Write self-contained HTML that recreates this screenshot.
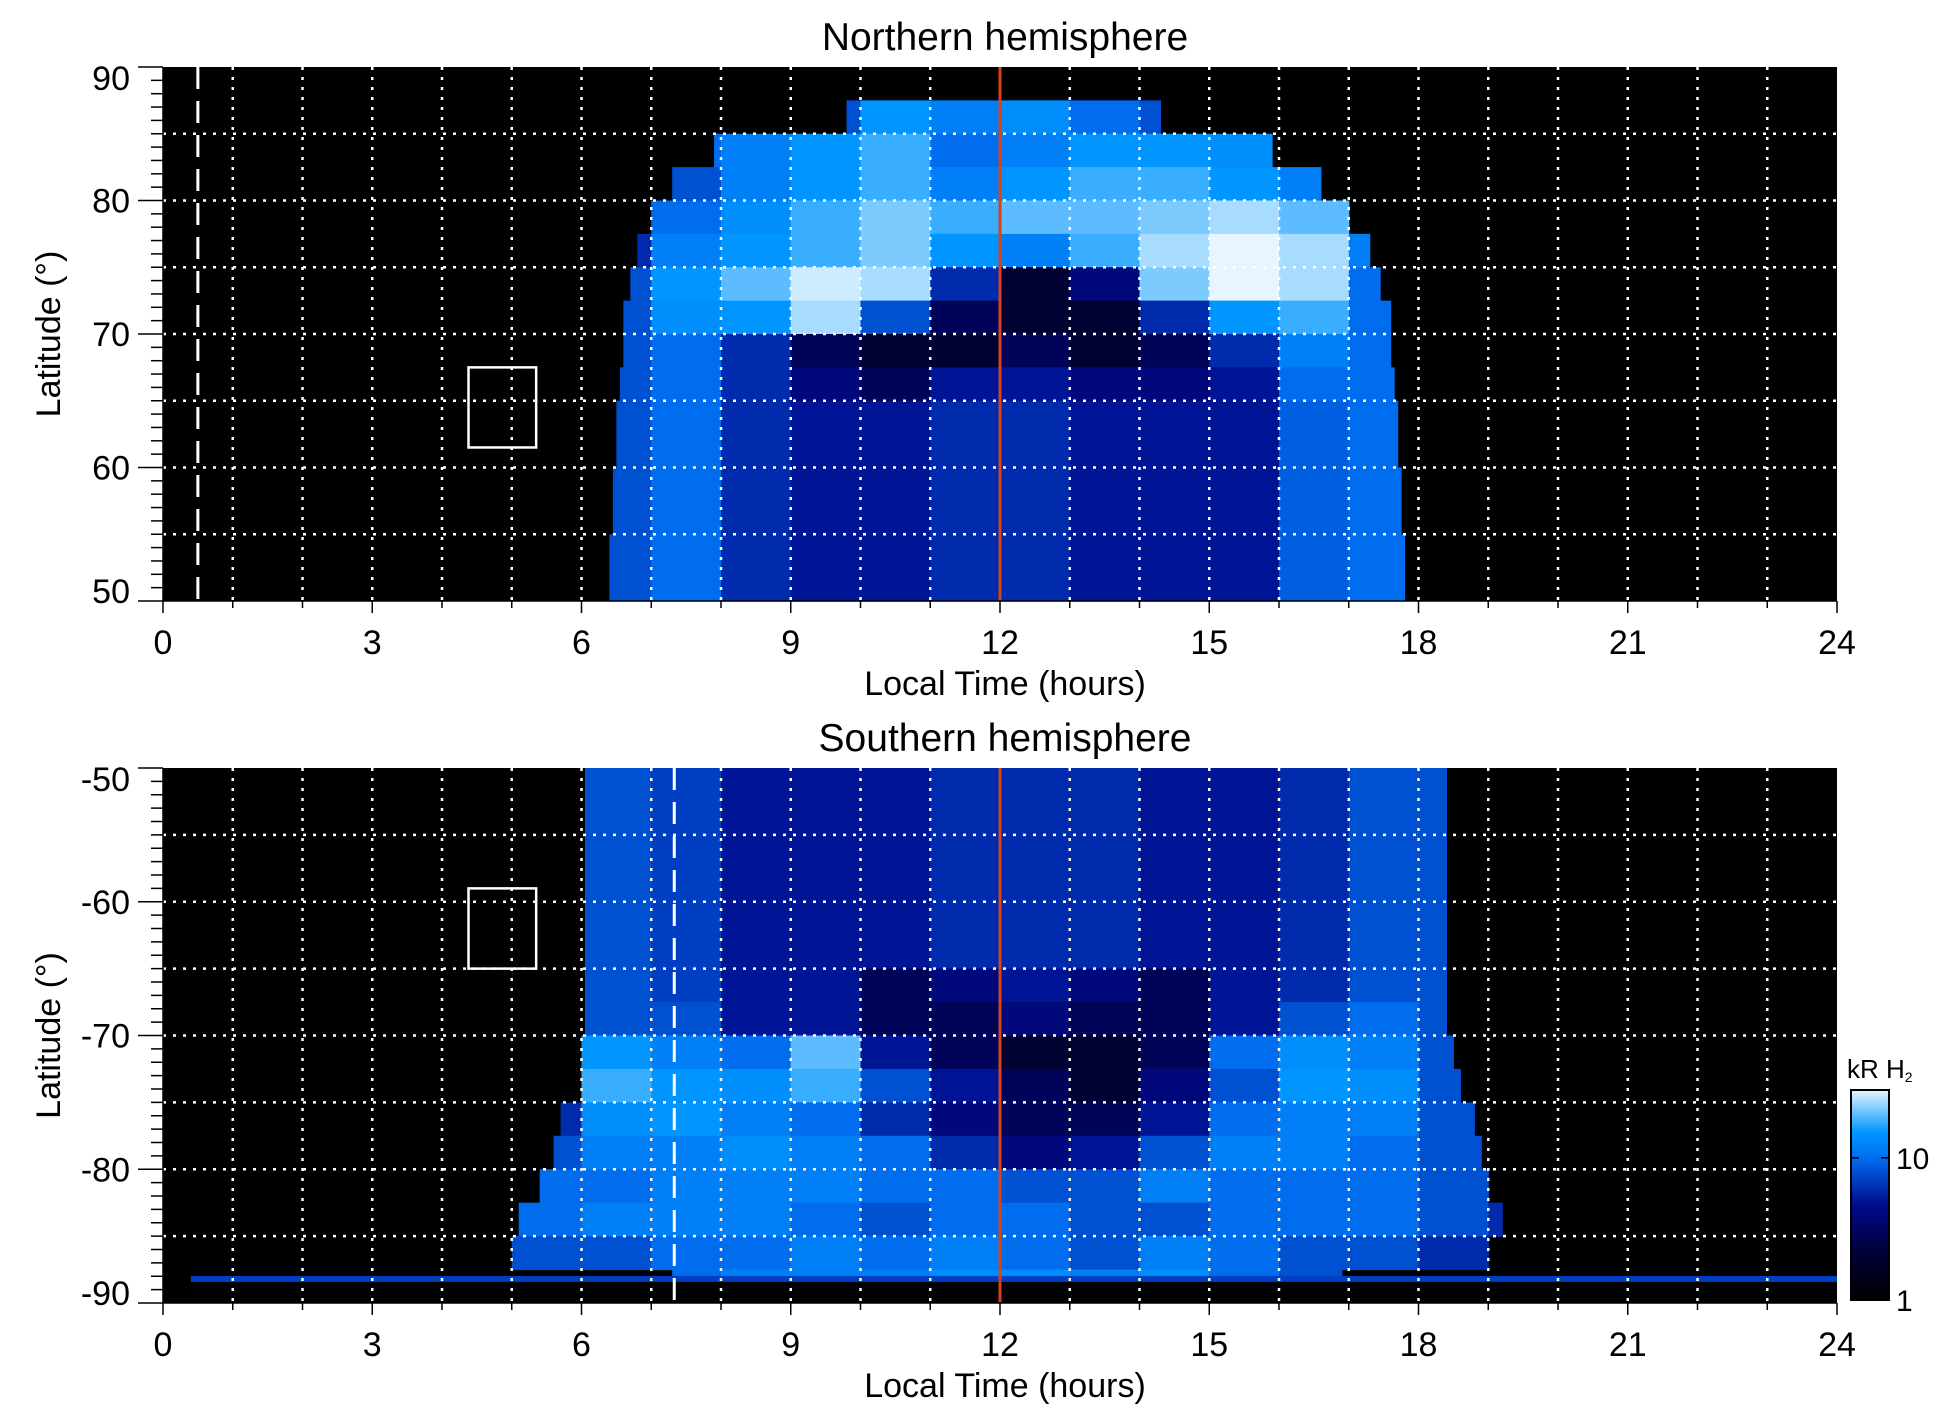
<!DOCTYPE html>
<html><head><meta charset="utf-8"><style>
html,body{margin:0;padding:0;background:#fff;}
svg{display:block;font-family:"Liberation Sans",Arial,sans-serif;}
</style></head><body>
<svg id="fig" width="1950" height="1423" viewBox="0 0 1950 1423" xmlns="http://www.w3.org/2000/svg">
<defs>
<linearGradient id="cbgrad" x1="0" y1="1" x2="0" y2="0">
<stop offset="0" stop-color="#000000"/><stop offset="0.25" stop-color="#00003c"/><stop offset="0.45" stop-color="#000a8c"/><stop offset="0.68" stop-color="#006ef0"/><stop offset="0.8" stop-color="#0096ff"/><stop offset="1" stop-color="#e6f5ff"/>
</linearGradient>
</defs>
</svg>
<script>
// ---------- data ----------
const ltTicks=[0,3,6,9,12,15,18,21,24];
const northLatTicks=[90,80,70,60,50];
const southLatTicks=[-50,-60,-70,-80,-90];
const northRowLats=[88.75,86.25,83.75,81.25,78.75,76.25,73.75,71.25,68.75,66.25,63.75,61.25,58.75,56.25,53.75,51.25];
const northStart=[99,9.8,7.9,7.3,7.0,6.8,6.7,6.6,6.6,6.55,6.5,6.5,6.45,6.45,6.4,6.4];
const northEnd=[0,14.3,15.9,16.6,17.0,17.3,17.45,17.6,17.6,17.65,17.7,17.7,17.75,17.75,17.8,17.8];
const northCols=[6,7,8,9,10,11,12,13,14,15,16,17];
const northVals=[
[0,0,0,0,0,0,0,0,0,0,0,0],
[0,0,0,8,15,12,14,10,8,0,0,0],
[0,10,12,15,18,10,12,15,15,14,0,0],
[0,8,12,15,18,12,15,18,18,15,12,0],
[6,10,14,18,22,18,20,20,22,25,20,10],
[6,12,15,18,22,15,12,18,25,30,25,12],
[8,15,20,28,25,6,2,4,22,30,25,10],
[8,14,15,25,8,3,2,2,6,15,18,10],
[8,10,6,3,2,2,3,2,3,6,12,10],
[8,10,6,4,3,5,5,4,4,5,10,10],
[8,10,6,5,5,6,6,5,5,5,9,10],
[8,10,6,5,5,6,6,5,5,5,9,10],
[8,10,6,5,5,6,6,5,5,5,9,10],
[8,10,6,5,5,6,6,5,5,5,9,10],
[8,10,6,5,5,6,6,5,5,5,9,10],
[8,10,6,5,5,6,6,5,5,5,9,10]];
const southRowLats=[-51.25,-53.75,-56.25,-58.75,-61.25,-63.75,-66.25,-68.75,-71.25,-73.75,-76.25,-78.75,-81.25,-83.75,-86.25,-87.8];
const southStart=[6.05,6.05,6.05,6.05,6.05,6.05,6.05,6.05,6.0,5.9,5.7,5.6,5.4,5.1,4.9,7.3];
const southEnd=[18.4,18.4,18.4,18.4,18.4,18.4,18.4,18.4,18.5,18.6,18.8,18.9,19.0,19.2,19.5,16.9];
const southCols=[4,5,6,7,8,9,10,11,12,13,14,15,16,17,18,19];
const southVals=[
[0,0,8,7,5,5,5,6,6,6,5,5,6,8,8,0],
[0,0,8,7,5,5,5,6,6,6,5,5,6,8,8,0],
[0,0,8,7,5,5,5,6,6,6,5,5,6,8,8,0],
[0,0,8,7,5,5,5,6,6,6,5,5,6,8,8,0],
[0,0,8,7,5,5,5,6,6,6,5,5,6,8,8,0],
[0,0,8,7,5,5,5,6,6,6,5,5,6,8,8,0],
[0,0,8,7,5,5,3,4,5,4,3,5,6,8,8,0],
[0,0,8,8,5,5,3,3,4,3,3,5,8,10,8,0],
[0,0,15,12,10,20,5,3,2,2,3,10,14,12,8,0],
[0,0,18,15,14,18,8,5,3,2,4,8,15,14,8,0],
[0,6,14,15,12,10,6,4,3,3,5,10,12,12,8,0],
[0,8,12,12,14,12,10,6,4,5,8,12,12,10,8,0],
[0,10,10,12,12,12,10,10,8,8,12,10,10,10,8,0],
[8,10,12,12,12,10,8,10,10,8,8,10,10,10,8,6],
[0,8,8,10,10,12,10,12,10,8,12,10,8,8,6,0],
[0,0,0,10,12,12,12,14,14,12,14,10,8,0,0,0]];
const bandLat=-88.2;
const bandStart=0.4, bandEnd=24, bandVal=7;
const cbTicks=[1,10];
const cbMax=30;

// ---------- helpers ----------
const NS='http://www.w3.org/2000/svg';
const svg=document.getElementById('fig');
function el(tag,attrs,parent){const e=document.createElementNS(NS,tag);for(const k in attrs)e.setAttribute(k,attrs[k]);(parent||svg).appendChild(e);return e;}
const X0=163,X1=1837;
function xs(lt){return X0+(X1-X0)*lt/24;}
const stops=[[0,[0,0,0]],[0.25,[0,0,60]],[0.45,[0,10,140]],[0.68,[0,110,240]],[0.8,[0,150,255]],[1,[230,245,255]]];
function cmap(v){
  let t=Math.log(Math.max(v,1))/Math.log(cbMax);t=Math.min(1,Math.max(0,t));
  for(let i=1;i<stops.length;i++){if(t<=stops[i][0]){const a=stops[i-1],b=stops[i];const f=(t-a[0])/(b[0]-a[0]);
    return 'rgb('+a[1].map((c,j)=>Math.round(c+(b[1][j]-c)*f)).join(',')+')';}}
  return 'rgb(230,245,255)';
}

function panel(opts){
  const {top,bot,latTop,latBot,title,titleY,name}=opts;
  const ys=lat=>top+(bot-top)*(latTop-lat)/(latTop-latBot);
  const g=el('g',{});
  
  
  const bg=el('rect',{x:X0,y:top,width:X1-X0,height:bot-top,fill:'#000'},g);
  
  
  const hm=el('g',{},g);
  
  
  const rows=opts.rowLats,cols=opts.cols,vals=opts.vals;
  rows.forEach((lat,r)=>{
    const half=(r===rows.length-1&&opts.lastHalf)?opts.lastHalf:1.25;
    const y1=ys(lat+half),y2=ys(lat-half);
    cols.forEach((c,ci)=>{
      const v=vals[r][ci];if(!v)return;
      const a=Math.max(c,opts.start[r]),b=Math.min(c+1,opts.end[r]);if(b<=a)return;
      const rc=el('rect',{x:xs(a),y:Math.min(y1,y2),width:xs(b)-xs(a)+0.6,height:Math.abs(y2-y1)+0.6,fill:cmap(v)},hm);
      
      
    });
  });
  if(opts.band){
    const bd=el('rect',{x:xs(bandStart),y:ys(bandLat)-3,width:xs(bandEnd)-xs(bandStart),height:6,fill:cmap(bandVal)},g);
    
    
  }
  const grid=el('g',{stroke:'#fff','stroke-width':2.5,'stroke-dasharray':'3,7'},g);
  
  
  for(let h=1;h<24;h++) el('line',{x1:xs(h),x2:xs(h),y1:top,y2:bot},grid);
  for(let l=Math.min(latTop,latBot)+5;l<Math.max(latTop,latBot);l+=5) el('line',{x1:X0,x2:X1,y1:ys(l),y2:ys(l)},grid);
  const dl=el('line',{x1:xs(opts.dashLT),x2:xs(opts.dashLT),y1:top,y2:bot,stroke:'#fff','stroke-width':3,'stroke-dasharray':'22,12'},g);
  
  
  const nl=el('line',{x1:xs(12),x2:xs(12),y1:top,y2:bot,stroke:'#d8431a','stroke-width':3},g);
  
  
  const bx=el('rect',{x:xs(4.38),y:ys(opts.box[0]),width:xs(5.35)-xs(4.38),height:ys(opts.box[1])-ys(opts.box[0]),fill:'none',stroke:'#fff','stroke-width':2.5},g);
  
  
  const ax=el('g',{stroke:'#000','stroke-width':1.5},g);
  
  
  el('line',{x1:X0,x2:X0,y1:top,y2:bot},ax);
  el('line',{x1:X0,x2:X1,y1:bot,y2:bot},ax);
  for(let l=Math.min(latTop,latBot);l<=Math.max(latTop,latBot);l++){
    const len=(l%10===0)?25:12;
    el('line',{x1:X0-len,x2:X0,y1:ys(l),y2:ys(l)},ax);
  }
  for(let h=0;h<=24;h++){const len=(h%3===0)?12:7;el('line',{x1:xs(h),x2:xs(h),y1:bot,y2:bot+len},ax);}
  opts.latTicks.forEach((l,i)=>{
    let cy=ys(l);if(i===0)cy=top+11;if(i===opts.latTicks.length-1)cy=bot-10;
    const t=el('text',{x:130,y:cy+12,'text-anchor':'end','font-size':34},g);t.textContent=l;
    
    
  });
  ltTicks.forEach(h=>{
    const t=el('text',{x:xs(h),y:bot+53,'text-anchor':'middle','font-size':34},g);t.textContent=h;
    
    
  });
  const xt=el('text',{x:1005,y:bot+94,'text-anchor':'middle','font-size':34},g);xt.textContent='Local Time (hours)';
  
  
  const cy=(top+bot)/2;
  const yt=el('text',{x:0,y:0,'text-anchor':'middle','font-size':34,transform:'translate(60,'+cy+') rotate(-90)'},g);yt.textContent='Latitude (°)';
  
  
  const tt=el('text',{x:1005,y:titleY,'text-anchor':'middle','font-size':39},g);tt.textContent=title;
  
  
}

panel({name:'north',top:67,bot:601,latTop:90,latBot:50,title:'Northern hemisphere',titleY:50,
  rowLats:northRowLats,cols:northCols,vals:northVals,start:northStart,end:northEnd,
  dashLT:0.5,box:[67.5,61.5],latTicks:northLatTicks});
panel({name:'south',top:768,bot:1303,latTop:-50,latBot:-90,title:'Southern hemisphere',titleY:751,
  rowLats:southRowLats,cols:southCols,vals:southVals,start:southStart,end:southEnd,lastHalf:0.3,band:true,
  dashLT:7.33,box:[-59,-65],latTicks:southLatTicks});

const cb=el('g',{});


const CBT=1090,CBB=1300;
el('rect',{x:1851,y:CBT,width:38,height:CBB-CBT,fill:'url(#cbgrad)',stroke:'#000','stroke-width':2},cb);
const cbl=el('text',{x:1847,y:1078,'font-size':26},cb);
cbl.innerHTML='kR H<tspan font-size="14" dy="4">2</tspan>';


cbTicks.forEach(v=>{
  const y=CBB-(CBB-CBT)*Math.log(v)/Math.log(cbMax);
  el('line',{x1:1851,x2:1859,y1:y,y2:y,stroke:'#000','stroke-width':1.5},cb);
  el('line',{x1:1881,x2:1889,y1:y,y2:y,stroke:'#000','stroke-width':1.5},cb);
  const t=el('text',{x:1896,y:y+11,'font-size':30},cb);t.textContent=v;
  
  
});
</script>
</body></html>
